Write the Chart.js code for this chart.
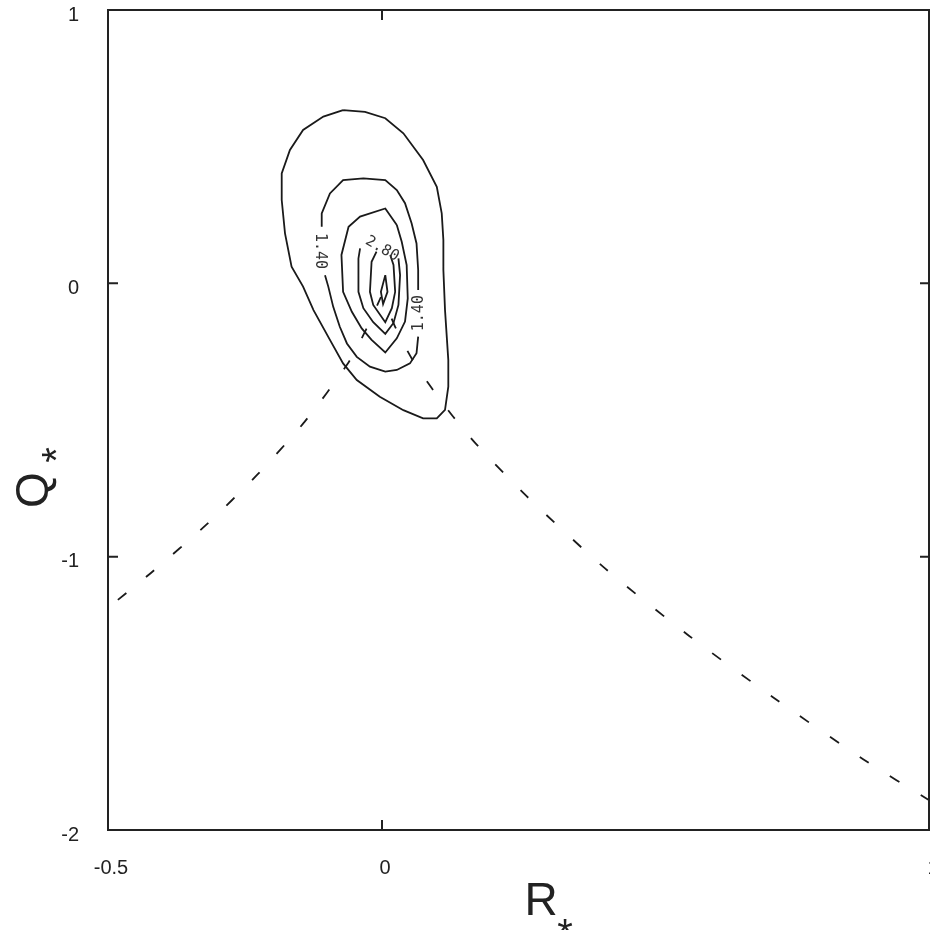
<!DOCTYPE html>
<html><head><meta charset="utf-8">
<script src="https://cdn.jsdelivr.net/npm/chart.js@4/dist/chart.umd.min.js"></script>
<style>html,body{margin:0;padding:0;background:#fff;overflow:hidden}#wrap{width:930px;height:930px}</style>
</head><body><div id="wrap"><canvas id="c" width="930" height="930"></canvas></div>
<script>
// axis ticks
const xTickValues = [-0.5, 0, 1];
const xTickLabels = ['-0.5', '0', '1'];
const yTickValues = [1, 0, -1, -2];
const yTickLabels = ['1', '0', '-1', '-2'];
const xAxisTitle = 'R', xAxisSub = '*';
const yAxisTitle = 'Q', yAxisSub = '*';

// contour level 1 (outermost, closed)
const c1X = [-0.071,-0.031,0.006,0.039,0.075,0.100,0.109,0.112,0.112,0.115,0.121,0.121,0.115,0.100,0.075,0.039,-0.004,-0.046,-0.071,-0.095,-0.125,-0.144,-0.165,-0.177,-0.183,-0.183,-0.168,-0.144,-0.107,-0.071];
const c1Y = [0.634,0.627,0.604,0.549,0.451,0.353,0.256,0.158,0.049,-0.098,-0.281,-0.378,-0.463,-0.494,-0.494,-0.464,-0.415,-0.354,-0.293,-0.207,-0.098,-0.012,0.061,0.183,0.305,0.402,0.488,0.561,0.610,0.634];
// contour level 1.40 (two pieces, broken by labels)
const c2aX = [-0.110,-0.110,-0.095,-0.071,-0.034,0.006,0.027,0.042,0.054,0.063,0.066,0.066];
const c2aY = [0.207,0.256,0.329,0.378,0.384,0.378,0.341,0.293,0.220,0.146,0.049,-0.024];
const c2bX = [0.066,0.063,0.051,0.027,0.006,-0.022,-0.046,-0.064,-0.077,-0.089,-0.098,-0.104];
const c2bY = [-0.195,-0.256,-0.293,-0.317,-0.323,-0.305,-0.269,-0.220,-0.159,-0.086,-0.012,0.030];
// contour level 3 (closed)
const c3X = [0.027,0.006,-0.040,-0.061,-0.074,-0.071,-0.055,-0.037,-0.019,0.006,0.027,0.042,0.047,0.045,0.036,0.027];
const c3Y = [0.213,0.274,0.244,0.207,0.104,-0.031,-0.104,-0.165,-0.207,-0.253,-0.201,-0.140,-0.055,0.067,0.152,0.213];
// contour level 2.80 (open at label)
const c4X = [-0.040,-0.043,-0.043,-0.034,-0.016,0.006,0.021,0.030,0.033,0.030];
const c4Y = [0.128,0.091,-0.031,-0.091,-0.142,-0.185,-0.145,-0.079,0.030,0.091];
// contour level 5
const c5X = [-0.010,-0.019,-0.022,-0.016,0.006,0.018,0.024,0.021,0.015];
const c5Y = [0.116,0.079,-0.031,-0.079,-0.142,-0.091,-0.031,0.067,0.104];
// innermost contour
const c6X = [0.006,0.010,0.002,-0.002,0.006];
const c6Y = [0.030,-0.031,-0.076,-0.031,0.030];
// dashed boundary curves
const dashLX = [-0.482,-0.419,-0.321,-0.228,-0.141,-0.063,-0.031,-0.002];
const dashLY = [-1.158,-1.055,-0.884,-0.701,-0.506,-0.295,-0.177,-0.050];
const dashRX = [1.0,0.878,0.716,0.560,0.407,0.263,0.172,0.130,0.091,0.054,0.024,0.002];
const dashRY = [-1.893,-1.741,-1.518,-1.289,-1.043,-0.777,-0.588,-0.488,-0.384,-0.274,-0.159,-0.050];
// contour labels
const labelText = ['1.40', '1.40', '2.80'];
const labelX = [-0.113, 0.067, 0.0];
const labelY = [0.118, -0.109, 0.126];
const labelRot = [90, -90, 30];

const pts = (xs, ys) => xs.map((x, i) => ({x, y: ys[i]}));
const solid = (xs, ys) => ({data: pts(xs, ys), showLine: true, pointRadius: 0, borderColor: '#1a1a1a', borderWidth: 1.8, tension: 0, fill: false});
const dashed = (xs, ys) => ({data: pts(xs, ys), showLine: true, pointRadius: 0, borderColor: '#1a1a1a', borderWidth: 1.8, tension: 0.25, borderDash: [11, 25], fill: false});

const FONT = '"Liberation Sans", Arial, Helvetica, sans-serif';

const decor = {
  id: 'decor',
  afterDatasetsDraw(chart) {
    const ctx = chart.ctx, xs = chart.scales.x, ys = chart.scales.y;
    ctx.save();
    ctx.fillStyle = '#333';
    ctx.font = '15px "DejaVu Sans Mono", monospace';
    ctx.textAlign = 'center';
    ctx.textBaseline = 'middle';
    labelText.forEach((t, i) => {
      ctx.save();
      ctx.translate(xs.getPixelForValue(labelX[i]), ys.getPixelForValue(labelY[i]));
      ctx.rotate(labelRot[i] * Math.PI / 180);
      ctx.fillText(t, 0, 0);
      ctx.restore();
    });
    ctx.restore();
  },
  afterDraw(chart) {
    const ctx = chart.ctx, a = chart.chartArea, xs = chart.scales.x, ys = chart.scales.y;
    ctx.save();
    ctx.strokeStyle = '#222';
    ctx.lineWidth = 2;
    ctx.beginPath();
    ctx.moveTo(a.left, a.top); ctx.lineTo(a.right - 1, a.top);
    ctx.lineTo(a.right - 1, a.bottom); ctx.lineTo(a.left, a.bottom); ctx.closePath();
    ctx.stroke();
    const TL = 10;
    xs.ticks.forEach((t, i) => {
      const px = xs.getPixelForTick(i);
      ctx.beginPath();
      ctx.moveTo(px, a.bottom); ctx.lineTo(px, a.bottom - TL);
      ctx.moveTo(px, a.top); ctx.lineTo(px, a.top + TL);
      ctx.stroke();
    });
    ys.ticks.forEach((t, i) => {
      const py = ys.getPixelForTick(i);
      ctx.beginPath();
      ctx.moveTo(a.left, py); ctx.lineTo(a.left + TL, py);
      ctx.moveTo(a.right, py); ctx.lineTo(a.right - TL, py);
      ctx.stroke();
    });
    // axis titles
    ctx.fillStyle = '#222';
    ctx.textAlign = 'center';
    ctx.textBaseline = 'alphabetic';
    ctx.font = '46px ' + FONT;
    ctx.fillText(xAxisTitle, 541, 915);
    ctx.font = '40px ' + FONT;
    ctx.fillText(xAxisSub, 565, 947);
    ctx.save();
    ctx.translate(48, 490);
    ctx.rotate(-Math.PI / 2);
    ctx.font = '46px ' + FONT;
    ctx.fillText(yAxisTitle, 0, 0);
    ctx.restore();
    ctx.save();
    ctx.translate(70, 455);
    ctx.rotate(-Math.PI / 2);
    ctx.font = '40px ' + FONT;
    ctx.fillText(yAxisSub, 0, 0);
    ctx.restore();
    ctx.restore();
  }
};

new Chart(document.getElementById('c'), {
  type: 'scatter',
  data: {datasets: [
    dashed(dashLX, dashLY), dashed(dashRX, dashRY),
    solid(c1X, c1Y), solid(c2aX, c2aY), solid(c2bX, c2bY), solid(c3X, c3Y),
    solid(c4X, c4Y), solid(c5X, c5Y), solid(c6X, c6Y)
  ]},
  options: {
    responsive: false, animation: false, events: [],
    layout: {padding: {top: 10, right: 0, left: 0, bottom: 0}},
    plugins: {legend: {display: false}, tooltip: {enabled: false}},
    scales: {
      x: {
        type: 'linear', min: -0.5, max: 1,
        afterBuildTicks: s => { s.ticks = xTickValues.map(v => ({value: v})); },
        afterFit: s => { s.height = 100; s.paddingLeft = 0; s.paddingRight = 0; },
        grid: {display: false}, border: {display: false},
        ticks: {autoSkip: false, maxRotation: 0, padding: 18, labelOffset: 3, color: '#222',
          font: {family: FONT, size: 20},
          callback: v => xTickLabels[xTickValues.indexOf(v)]}
      },
      y: {
        type: 'linear', min: -2, max: 1,
        afterBuildTicks: s => { s.ticks = yTickValues.map(v => ({value: v})); },
        afterFit: s => { s.width = 108; s.paddingTop = 0; s.paddingBottom = 0; },
        grid: {display: false}, border: {display: false},
        ticks: {autoSkip: false, padding: 21, labelOffset: 5, color: '#222',
          font: {family: FONT, size: 20},
          callback: v => yTickLabels[yTickValues.indexOf(v)]}
      }
    }
  },
  plugins: [decor]
});
</script></body></html>
